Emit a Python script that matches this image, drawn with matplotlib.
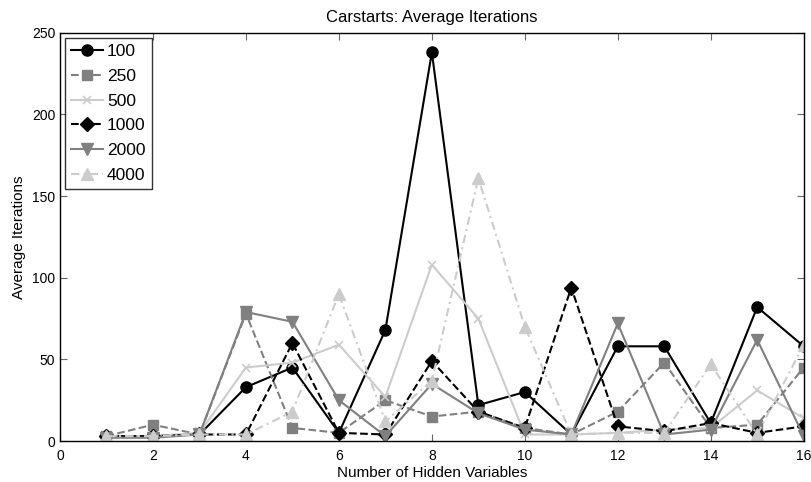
import numpy as np
import matplotlib
matplotlib.use("Agg")
import matplotlib.pyplot as plt

plt.rcParams['font.family'] = ['Liberation Sans', 'DejaVu Sans']

# number of hidden variables
hidden = np.arange(1, 17)

# average iterations for each sample size
it_100 = [3, 3, 4, 33, 45, 5, 68, 238, 22, 30, 4, 58, 58, 11, 82, 58]
it_250 = [3, 10, 4, 78, 8, 5, 25, 15, 18, 8, 4, 18, 48, 8, 10, 45]
it_500 = [3, 3, 5, 45, 48, 59, 27, 108, 75, 4, 4, 5, 7, 8, 31, 14]
it_1000 = [3, 3, 4, 4, 60, 5, 4, 49, 18, 8, 94, 9, 6, 11, 5, 9]
it_2000 = [2, 2, 4, 79, 73, 25, 3, 35, 17, 7, 4, 72, 4, 7, 62, 3]
it_4000 = [3, 3, 4, 4, 18, 90, 12, 37, 161, 70, 4, 5, 5, 47, 4, 59]

labels = ['100', '250', '500', '1000', '2000', '4000']

fig = plt.figure(figsize=(8.11, 4.82), dpi=100)
ax = fig.add_axes([0.074, 0.085, 0.917, 0.847])

ax.plot(hidden, it_100, '-', color='black', marker='o', ms=8, lw=1.5, label=labels[0])
ax.plot(hidden, it_250, '--', color='0.5', marker='s', ms=7, lw=1.5, label=labels[1])
ax.plot(hidden, it_500, '-', color='0.8', marker='x', ms=6, mew=1.2, lw=1.5, label=labels[2])
ax.plot(hidden, it_1000, '--', color='black', marker='D', ms=7, lw=1.5, label=labels[3])
ax.plot(hidden, it_2000, '-', color='0.5', marker='v', ms=9, lw=1.5, label=labels[4])
ax.plot(hidden, it_4000, linestyle=(0, (4, 2, 1, 2)), color='0.8', marker='^', ms=9, lw=1.5, label=labels[5])

ax.set_xlim(0, 16)
ax.set_ylim(0, 250)
ax.set_xticks(np.arange(0, 17, 2))
ax.set_yticks(np.arange(0, 251, 50))
ax.tick_params(direction='in', top=True, right=True, labelsize=10, length=5, color='0.4')
ax.tick_params(axis='x', pad=6)
for s in ax.spines.values():
    s.set_linewidth(1.0)

ax.set_xlabel('Number of Hidden Variables', fontsize=11, labelpad=2)
ax.set_ylabel('Average Iterations', fontsize=11)
ax.set_title('Carstarts: Average Iterations', fontsize=12, pad=8)

leg = ax.legend(loc='upper left', fontsize=12.5, frameon=True, fancybox=False,
                edgecolor='black', handlelength=1.8, handletextpad=0.25,
                labelspacing=0.55, borderpad=0.35, borderaxespad=0.3)
leg.get_frame().set_linewidth(1.0)

fig.savefig('out.png', dpi=100)
